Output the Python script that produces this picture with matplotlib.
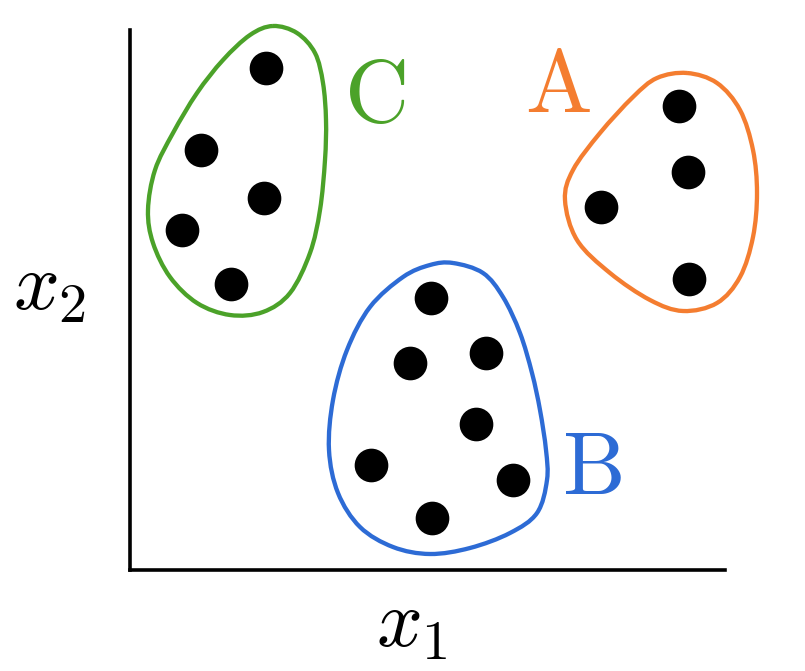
import numpy as np
import matplotlib.pyplot as plt
from matplotlib.path import Path
from matplotlib.patches import PathPatch

plt.rcParams['mathtext.fontset'] = 'cm'

# cluster points (x1, x2)
a_x = [549, 558, 471, 559]
a_y = [464, 398, 363, 291]
b_x = [301, 280, 356, 346, 241, 383, 302]
b_y = [272, 207, 217, 146, 105, 90, 52]
c_x = [136, 71, 134, 52, 101]
c_y = [502, 420, 372, 340, 286]

# outline points round each cluster
a_out_x = [557, 587, 610, 623, 627, 623, 610, 587, 553, 520, 480, 447, 435, 443, 470, 503, 527]
a_out_y = [497, 487, 460, 420, 377, 333, 293, 267, 259, 270, 297, 330, 370, 400, 437, 473, 492]
b_out_x = [323, 353, 373, 390, 402, 410, 416, 417, 407, 380, 340, 300, 263, 230, 208, 199, 203,
           217, 240, 273, 300]
b_out_y = [307, 297, 273, 237, 197, 160, 120, 90, 57, 37, 22, 16, 23, 43, 77, 120, 170,
           220, 263, 293, 305]
c_out_x = [143, 167, 185, 193, 196, 195, 190, 180, 160, 133, 100, 67, 40, 23, 18, 25, 43,
           67, 93, 120]
c_out_y = [544, 537, 517, 487, 450, 410, 360, 317, 277, 258, 255, 267, 293, 327, 360, 400, 437,
           477, 510, 535]

colors = {'A': '#f47d30', 'B': '#2d6bd5', 'C': '#4ba229'}


def closed_curve(xs, ys):
    # catmull-rom through the outline points, as cubic bezier segments
    p = np.column_stack([xs, ys]).astype(float)
    n = len(p)
    verts = [p[0]]
    codes = [Path.MOVETO]
    for i in range(n):
        p0, p1, p2, p3 = p[i - 1], p[i], p[(i + 1) % n], p[(i + 2) % n]
        verts += [p1 + (p2 - p0) / 6, p2 - (p3 - p1) / 6, p2]
        codes += [Path.CURVE4] * 3
    return Path(verts, codes)


fig = plt.figure(figsize=(8.05, 6.71), dpi=100)
ax = fig.add_axes([130 / 805, 101 / 671, 595 / 805, 540 / 671])
ax.set_xlim(0, 595)
ax.set_ylim(0, 540)

for xs, ys, key in [(a_out_x, a_out_y, 'A'), (b_out_x, b_out_y, 'B'), (c_out_x, c_out_y, 'C')]:
    ax.add_patch(PathPatch(closed_curve(xs, ys), fill=False, ec=colors[key], lw=3.1,
                           clip_on=False))

for xs, ys in [(a_x, a_y), (b_x, b_y), (c_x, c_y)]:
    ax.scatter(xs, ys, s=540, color='black', zorder=3, clip_on=False)

ax.text(428, 482, r'$\mathrm{A}$', color=colors['A'], fontsize=64, ha='center', va='center')
ax.text(462, 100, r'$\mathrm{B}$', color=colors['B'], fontsize=64, ha='center', va='center')
ax.text(245, 473, r'$\mathrm{C}$', color=colors['C'], fontsize=64, ha='center', va='center')

for s in ['top', 'right']:
    ax.spines[s].set_visible(False)
for s in ['left', 'bottom']:
    ax.spines[s].set_linewidth(2.6)
ax.set_xticks([])
ax.set_yticks([])

fig.text(412 / 805, 1 - 624 / 671, r'$x_1$', fontsize=58, ha='center', va='center')
fig.text(50 / 805, 1 - 287 / 671, r'$x_2$', fontsize=58, ha='center', va='center')

fig.savefig('out.png', dpi=100)
